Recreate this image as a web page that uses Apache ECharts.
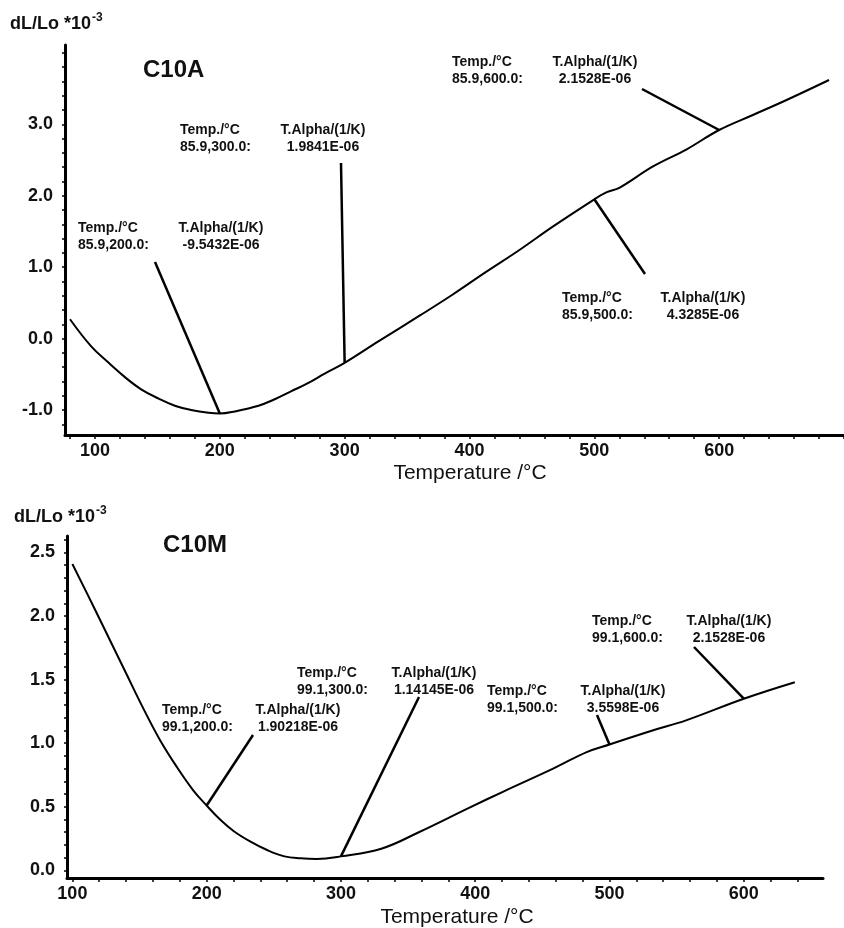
<!DOCTYPE html>
<html><head><meta charset="utf-8">
<script src="https://cdn.jsdelivr.net/npm/echarts@6/dist/echarts.min.js"></script>
<style>html,body{margin:0;padding:0;background:#fff}#c{width:844px;height:928px}</style>
</head><body><div id="c"></div>
<script>
// ---- data: C10A (top panel) ----
const tempA = [80, 97, 111, 124, 137, 151, 164, 177, 191, 200, 212, 231, 244, 257, 271, 284, 300, 327, 360, 386, 413, 440, 467, 500, 510, 520, 547, 574, 600, 627, 654, 688];
const dlA   = [0.27, -0.11, -0.34, -0.54, -0.71, -0.84, -0.94, -1.00, -1.04, -1.05, -1.02, -0.94, -0.85, -0.74, -0.62, -0.49, -0.34, -0.04, 0.32, 0.61, 0.93, 1.24, 1.57, 1.95, 2.05, 2.11, 2.41, 2.65, 2.92, 3.13, 3.34, 3.62];
// ---- data: C10M (bottom panel) ----
const tempM = [100, 116, 128, 140, 153, 165, 178, 190, 200, 210, 220, 232, 245, 258, 270, 282, 300, 330, 358, 395, 421, 458, 483, 500, 532, 557, 600, 638];
const dlM   = [2.41, 2.07, 1.81, 1.55, 1.27, 1.03, 0.81, 0.63, 0.51, 0.40, 0.31, 0.23, 0.16, 0.11, 0.095, 0.09, 0.11, 0.17, 0.30, 0.49, 0.62, 0.80, 0.93, 0.99, 1.10, 1.18, 1.35, 1.48];
// ---- tick labels ----
const xTicksA = [100, 200, 300, 400, 500, 600];
const yTicksA = [-1, 0, 1, 2, 3];
const xTicksM = [100, 200, 300, 400, 500, 600];
const yTicksM = [0, 0.5, 1, 1.5, 2, 2.5];
// ---- annotations ----
const annTempA  = [200, 300, 600, 500];
const annRowA   = ['85.9,200.0:', '85.9,300.0:', '85.9,600.0:', '85.9,500.0:'];
const annAlphaA = ['-9.5432E-06', '1.9841E-06', '2.1528E-06', '4.3285E-06'];
const annTempM  = [200, 300, 500, 600];
const annRowM   = ['99.1,200.0:', '99.1,300.0:', '99.1,500.0:', '99.1,600.0:'];
const annAlphaM = ['1.90218E-06', '1.14145E-06', '3.5598E-06', '2.1528E-06'];
const titleA = 'C10A', titleM = 'C10M';
const yName = 'dL/Lo *10', yNameSup = '-3';
const xName = 'Temperature /°C';
const head1 = 'Temp./°C', head2 = 'T.Alpha/(1/K)';

// ---- layout (pixels) ----
const layoutA = [
  {c1: 78,  c2: 221, y: 228, lx: 155, ly: 262},
  {c1: 180, c2: 323, y: 130, lx: 341, ly: 163},
  {c1: 452, c2: 595, y: 62,  lx: 642, ly: 89},
  {c1: 562, c2: 703, y: 298, lx: 645, ly: 274}
];
const layoutM = [
  {c1: 162, c2: 298, y: 710, lx: 253, ly: 735},
  {c1: 297, c2: 434, y: 673, lx: 419, ly: 697},
  {c1: 487, c2: 623, y: 691, lx: 597, ly: 715},
  {c1: 592, c2: 729, y: 621, lx: 694, ly: 647}
];

const FONT = '"Liberation Sans", Arial, Helvetica, sans-serif';
function range(a, b, s) { const r = []; for (let v = a; v <= b + 1e-9; v += s) r.push(+v.toFixed(4)); return r; }

function xAxis(grid, min, max, labels, ticks) {
  return {
    type: 'value', gridIndex: grid, min: min, max: max,
    axisLine: {show: true, onZero: false, lineStyle: {color: '#000', width: 3}},
    axisTick: {show: true, customValues: ticks, length: 4, lineStyle: {color: '#000', width: 1.5}},
    axisLabel: {customValues: labels, color: '#111', fontFamily: FONT, fontWeight: 'bold', fontSize: 18, margin: 7},
    splitLine: {show: false}
  };
}
function yAxis(grid, min, max, labels, ticks) {
  return {
    type: 'value', gridIndex: grid, min: min, max: max,
    axisLine: {show: true, onZero: false, lineStyle: {color: '#000', width: 3}},
    axisTick: {show: true, customValues: ticks, length: 3, lineStyle: {color: '#000', width: 1.5}},
    axisLabel: {customValues: labels, color: '#111', fontFamily: FONT, fontWeight: 'bold', fontSize: 18, margin: 12,
      formatter: v => v.toFixed(1)},
    splitLine: {show: false}
  };
}

const chart = echarts.init(document.getElementById('c'), null, {renderer: 'canvas'});
chart.setOption({
  animation: false,
  backgroundColor: '#fff',
  grid: [
    {left: 65, top: 45, right: 0, height: 390, containLabel: false, outerBoundsMode: 'none'},
    {left: 67, top: 536, right: 21, height: 342, containLabel: false, outerBoundsMode: 'none'}
  ],
  xAxis: [
    xAxis(0, 76, 700, xTicksA, range(80, 700, 20)),
    xAxis(1, 96, 659, xTicksM, range(100, 640, 20))
  ],
  yAxis: [
    yAxis(0, -1.35, 4.11, yTicksA, range(-1.2, 4.0, 0.2)),
    yAxis(1, -0.06, 2.63, yTicksM, range(0, 2.6, 0.1))
  ],
  series: [
    {type: 'line', xAxisIndex: 0, yAxisIndex: 0, showSymbol: false, smooth: 0.4,
     lineStyle: {color: '#000', width: 2}, data: tempA.map((t, i) => [t, dlA[i]])},
    {type: 'line', xAxisIndex: 1, yAxisIndex: 1, showSymbol: false, smooth: 0.4,
     lineStyle: {color: '#000', width: 2}, data: tempM.map((t, i) => [t, dlM[i]])}
  ]
});

const meas = document.createElement('canvas').getContext('2d');
function textW(font, s) { meas.font = font; return meas.measureText(s).width; }

const g = [];
function addText(x, y, text, font, align, extra) {
  g.push(Object.assign({type: 'text', x: x, y: y, silent: true,
    style: {text: text, font: font, fill: '#111', align: align || 'left', verticalAlign: 'middle'}}, extra || {}));
}
function annotate(gridIdx, temps, rows, alphas, layout, tArr, vArr) {
  const f = 'bold 14px ' + FONT;
  temps.forEach((t, i) => {
    const idx = tArr.indexOf(t);
    const p = chart.convertToPixel({xAxisIndex: gridIdx, yAxisIndex: gridIdx}, [t, vArr[idx]]);
    const L = layout[i];
    g.push({type: 'line', silent: true, shape: {x1: L.lx, y1: L.ly, x2: p[0], y2: p[1]},
      style: {stroke: '#000', lineWidth: 2.5}});
    addText(L.c1, L.y, head1, f, 'left');
    addText(L.c1, L.y + 17, rows[i], f, 'left');
    addText(L.c2, L.y, head2, f, 'center');
    addText(L.c2, L.y + 17, alphas[i], f, 'center');
  });
}
annotate(0, annTempA, annRowA, annAlphaA, layoutA, tempA, dlA);
annotate(1, annTempM, annRowM, annAlphaM, layoutM, tempM, dlM);

// axis names / titles
const yf = 'bold 18px ' + FONT;
[[10, 24], [14, 517]].forEach(([x, y]) => {
  addText(x, y, yName, yf, 'left');
  addText(x + textW(yf, yName) + 1, y - 6, yNameSup, 'bold 12px ' + FONT, 'left');
});
addText(143, 70, titleA, 'bold 24px ' + FONT, 'left');
addText(163, 545, titleM, 'bold 24px ' + FONT, 'left');
addText(470, 473, xName, '21px ' + FONT, 'center');
addText(457, 917, xName, '21px ' + FONT, 'center');

chart.setOption({graphic: g});
</script>
</body></html>
